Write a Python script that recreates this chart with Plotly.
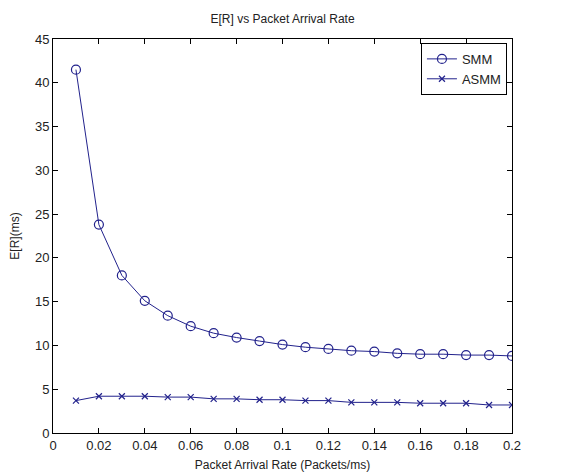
import plotly.graph_objects as go

rate = [0.01, 0.02, 0.03, 0.04, 0.05, 0.06, 0.07, 0.08, 0.09, 0.10,
        0.11, 0.12, 0.13, 0.14, 0.15, 0.16, 0.17, 0.18, 0.19, 0.20]
smm = [41.5, 23.8, 18.0, 15.1, 13.4, 12.2, 11.4, 10.9, 10.5, 10.1,
       9.8, 9.6, 9.4, 9.3, 9.1, 9.0, 9.0, 8.9, 8.9, 8.8]
asmm = [3.7, 4.2, 4.2, 4.2, 4.1, 4.1, 3.9, 3.9, 3.8, 3.8,
        3.7, 3.7, 3.5, 3.5, 3.5, 3.4, 3.4, 3.4, 3.2, 3.2]
x_ticks = [0, 0.02, 0.04, 0.06, 0.08, 0.1, 0.12, 0.14, 0.16, 0.18, 0.2]
x_tick_text = ["0", "0.02", "0.04", "0.06", "0.08", "0.1", "0.12", "0.14", "0.16", "0.18", "0.2"]
y_ticks = [0, 5, 10, 15, 20, 25, 30, 35, 40, 45]

col = "#22228c"
fig = go.Figure()
fig.add_trace(go.Scatter(x=rate, y=smm, name="SMM", mode="lines+markers",
                         line=dict(color=col, width=1),
                         marker=dict(symbol="circle-open", size=9, color=col, line=dict(width=1.2))))
fig.add_trace(go.Scatter(x=rate, y=asmm, name="ASMM", mode="lines+markers",
                         line=dict(color=col, width=1),
                         marker=dict(symbol="x-thin-open", size=6, color=col, line=dict(width=1.2, color=col))))

axis_common = dict(showline=True, linecolor="black", linewidth=1, mirror="ticks",
                   ticks="inside", ticklen=5, tickcolor="black", showgrid=False,
                   zeroline=False, automargin=False, tickfont=dict(size=13, color="#222"))
fig.update_layout(
    width=572, height=475,
    margin=dict(l=53, r=60, t=39, b=42),
    paper_bgcolor="white", plot_bgcolor="white",
    font=dict(family="Liberation Sans, Arial", size=12, color="#222"),
    title=dict(text="E[R] vs Packet Arrival Rate", x=0.494, xanchor="center",
               y=1 - 19 / 475, yanchor="middle", font=dict(size=12)),
    xaxis=dict(range=[0, 0.2], tickvals=x_ticks, ticktext=x_tick_text,
               title=dict(text="Packet Arrival Rate (Packets/ms)", standoff=9, font=dict(size=12)),
               **axis_common),
    yaxis=dict(range=[0, 45], tickvals=y_ticks,
               title=dict(text="E[R](ms)", standoff=12, font=dict(size=12)),
               **axis_common),
    legend=dict(x=0.989, y=0.99, xanchor="right", yanchor="top",
                bgcolor="white", bordercolor="black", borderwidth=1,
                font=dict(size=13), tracegroupgap=0, itemwidth=30),
    showlegend=True,
)
fig.write_html("out.html")
